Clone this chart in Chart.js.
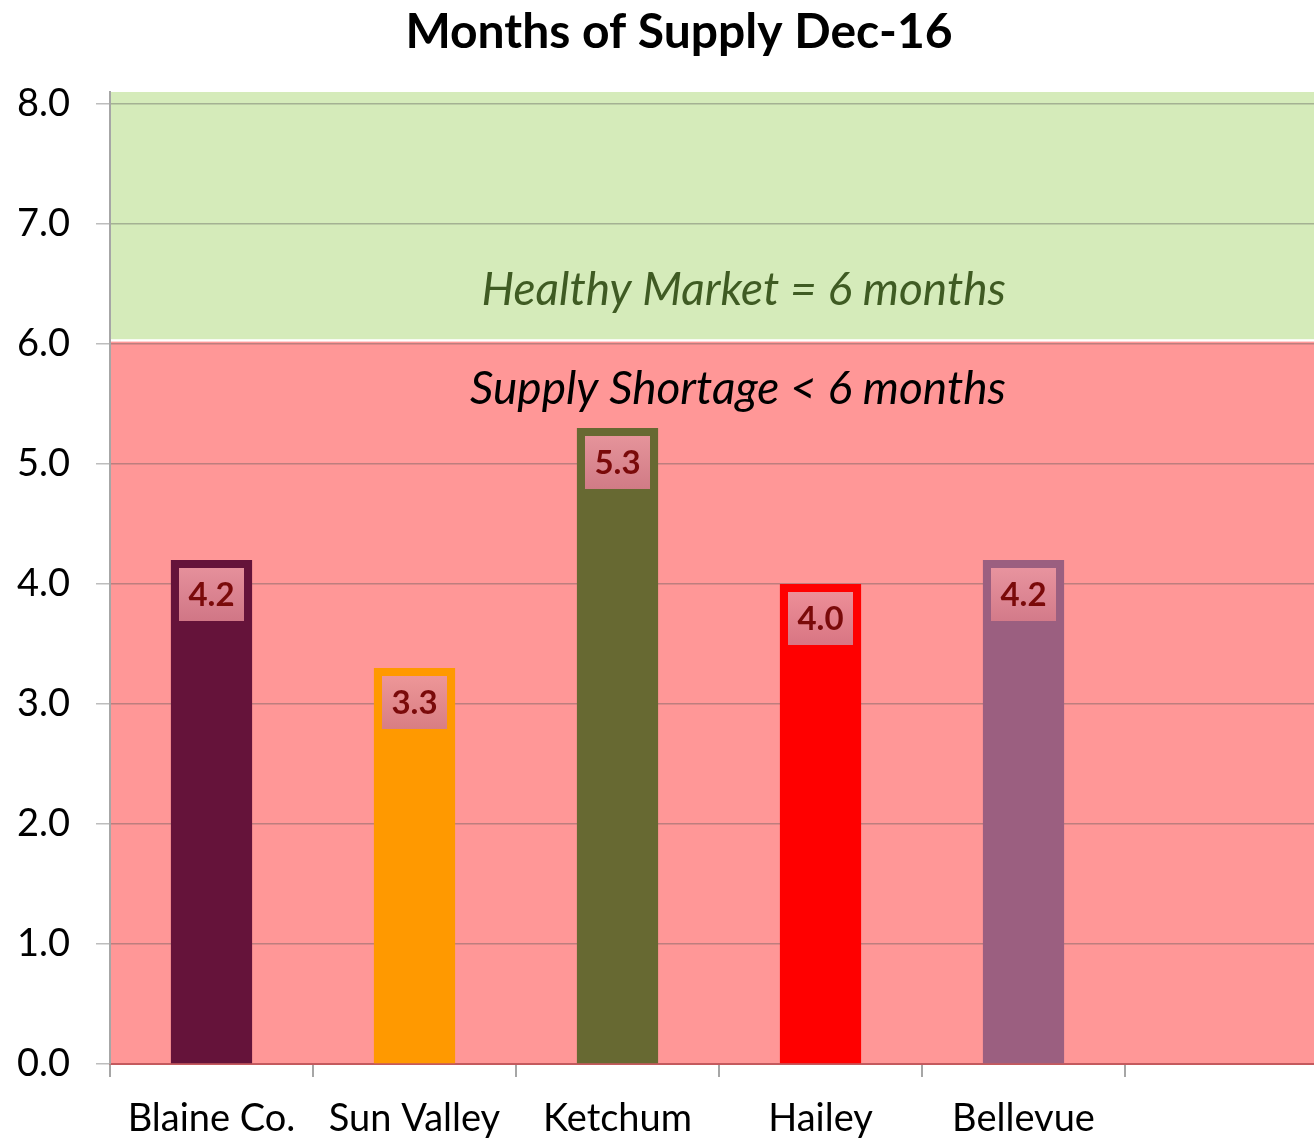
<!DOCTYPE html>
<html>
<head>
<meta charset="utf-8">
<script src="https://cdn.jsdelivr.net/npm/chart.js@4/dist/chart.umd.min.js"></script>
<style>
  html, body { margin: 0; padding: 0; background: #fff; overflow: hidden; }
  #wrap { width: 1328px; height: 1141px; }
</style>
</head>
<body>
<div id="wrap"><canvas id="chart" width="1328" height="1141"></canvas></div>
<script>
// data
const towns = ['Blaine Co.', 'Sun Valley', 'Ketchum', 'Hailey', 'Bellevue', ''];
const monthsOfSupply = [4.2, 3.3, 5.3, 4.0, 4.2, null];
const barColors = ['#65133A', '#FF9900', '#676932', '#FF0000', '#9B5F80', '#000'];
const yTicks = [0, 1, 2, 3, 4, 5, 6, 7, 8];
const yMax = 8.1;
const healthyBand = [6.04, 8.1];
const shortageBand = [0, 6.02];
const chartTitle = 'Months of Supply Dec-16';
const healthyText = 'Healthy Market = 6 months';
const shortageText = 'Supply Shortage < 6 months';

const zonesPlugin = {
    id: 'zones',
    beforeDraw(chart) {
        const { ctx, chartArea, scales } = chart;
        const y = scales.y;
        ctx.save();
        ctx.fillStyle = '#D5EBBA';
        ctx.fillRect(chartArea.left, y.getPixelForValue(healthyBand[1]), chartArea.right - chartArea.left,
            y.getPixelForValue(healthyBand[0]) - y.getPixelForValue(healthyBand[1]));
        ctx.fillStyle = '#FF9797';
        ctx.fillRect(chartArea.left, y.getPixelForValue(shortageBand[1]), chartArea.right - chartArea.left,
            y.getPixelForValue(shortageBand[0]) - y.getPixelForValue(shortageBand[1]));

        // title, centred a little right of the canvas middle like the original
        ctx.fillStyle = '#000';
        ctx.textAlign = 'center';
        ctx.textBaseline = 'alphabetic';
        ctx.font = 'bold 48px Lato';
        ctx.fillText(chartTitle, chart.width / 2 + 15, 48);
        ctx.restore();
    },
    afterDatasetsDraw(chart) {
        const { ctx, chartArea, scales } = chart;
        const y = scales.y;
        const xr = chartArea.left + (chartArea.right - chartArea.left) * 0.7356;
        ctx.save();
        ctx.textAlign = 'right';
        ctx.textBaseline = 'middle';
        ctx.font = 'italic 46px Lato';
        ctx.fillStyle = '#3F5B23';
        ctx.fillText(healthyText, xr, y.getPixelForValue(6.45));
        ctx.fillStyle = '#000';
        ctx.fillText(shortageText, xr, y.getPixelForValue(5.62));

        // value boxes near the top of each bar
        const meta = chart.getDatasetMeta(0);
        ctx.textAlign = 'center';
        ctx.font = 'bold 33px Lato';
        meta.data.forEach((bar, i) => {
            const v = monthsOfSupply[i];
            if (v == null) return;
            const bw = 65, bh = 53;
            const top = bar.y + 8;
            const grad = ctx.createLinearGradient(0, top, 0, top + bh);
            grad.addColorStop(0, 'rgba(236,150,160,0.95)');
            grad.addColorStop(1, 'rgba(214,124,138,0.95)');
            ctx.fillStyle = grad;
            ctx.fillRect(bar.x - bw / 2, top, bw, bh);
            ctx.fillStyle = '#7A0A0A';
            ctx.fillText(v.toFixed(1), bar.x, top + bh / 2 + 1);
        });
        ctx.restore();
    }
};

new Chart(document.getElementById('chart'), {
    type: 'bar',
    data: {
        labels: towns,
        datasets: [{
            data: monthsOfSupply,
            backgroundColor: barColors,
            barPercentage: 0.4,
            categoryPercentage: 1,
        }],
    },
    plugins: [zonesPlugin],
    options: {
        responsive: false,
        animation: false,
        layout: { padding: { left: 0, right: 0, top: 92, bottom: 0 } },
        scales: {
            x: {
                grid: { drawOnChartArea: false, tickLength: 13, color: '#A6A6A6', lineWidth: 2 },
                border: { color: '#C45A5E', width: 2 },
                ticks: { color: '#000', font: { family: 'Lato', size: 38 }, padding: 19, maxRotation: 0 },
                afterFit(scale) { scale.height = 77; },
            },
            y: {
                min: 0,
                max: yMax,
                afterBuildTicks(scale) { scale.ticks = yTicks.map(v => ({ value: v })); },
                grid: { color: 'rgba(90,90,90,0.4)', tickLength: 14, lineWidth: 1.5 },
                border: { color: '#A6A6A6', width: 2 },
                ticks: {
                    color: '#000',
                    font: { family: 'Lato', size: 38 },
                    padding: 26,
                    callback: v => Number(v).toFixed(1),
                },
                afterFit(scale) { scale.width = 110; },
            },
        },
        plugins: {
            legend: { display: false },
            tooltip: { enabled: false },
            title: { display: false },
        },
    },
});
</script>
</body>
</html>
